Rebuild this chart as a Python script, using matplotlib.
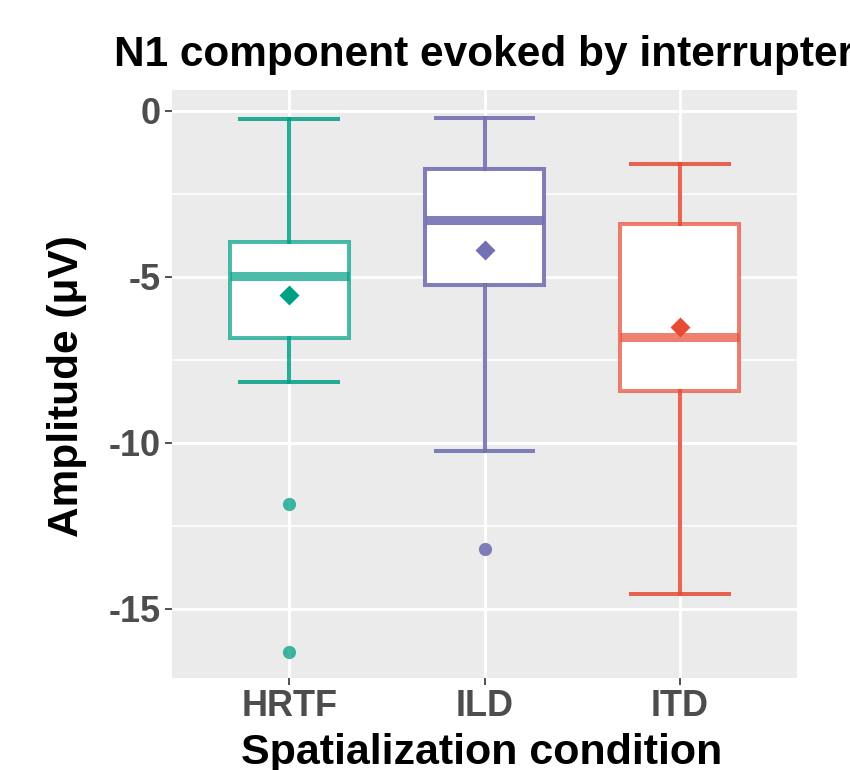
import matplotlib
matplotlib.use("Agg")
import matplotlib.pyplot as plt
from matplotlib.ticker import MultipleLocator
from matplotlib.colors import to_rgba

plt.rcParams['font.family'] = ['Liberation Sans', 'DejaVu Sans']
plt.rcParams['axes.unicode_minus'] = False

categories = ["HRTF", "ILD", "ITD"]
whisker_high = [-0.24, -0.21, -1.60]
q3 = [-3.95, -1.75, -3.40]
median = [-4.97, -3.28, -6.81]
q1 = [-6.84, -5.24, -8.43]
whisker_low = [-8.16, -10.24, -14.55]
mean = [-5.54, -4.19, -6.50]
outliers = [[-11.84, -16.30], [-13.19], []]

# style
colors = ["#00A087", "#7570B3", "#E64B35"]
edge_alpha = [0.7, 0.9, 0.7]
whisk_alpha = [0.85, 0.9, 0.85]

fig = plt.figure(figsize=(8.5, 7.7), dpi=100)
W, H = 850, 770
ax = fig.add_axes([172 / W, 1 - 678 / H, (797 - 172) / W, (678 - 90) / H])
ax.set_facecolor("#EBEBEB")
for s in ax.spines.values():
    s.set_visible(False)

ax.set_xlim(0.4, 3.6)
ax.set_ylim(-17.08, 0.63)
ax.yaxis.set_major_locator(MultipleLocator(5))
ax.yaxis.set_minor_locator(MultipleLocator(2.5))
ax.grid(which="major", color="white", linewidth=2.1)
ax.grid(which="minor", axis="y", color="white", linewidth=1.2)
ax.set_axisbelow(True)

positions = list(range(1, len(categories) + 1))
for i, pos in enumerate(positions):
    c = colors[i]
    ec = to_rgba(c, edge_alpha[i])
    wc = to_rgba(c, whisk_alpha[i])
    stats = [dict(med=median[i], q1=q1[i], q3=q3[i], whislo=whisker_low[i],
                  whishi=whisker_high[i], fliers=outliers[i], mean=mean[i])]
    ax.bxp(stats, positions=[pos], widths=0.61, patch_artist=True,
           showmeans=False, showfliers=True, manage_ticks=False,
           boxprops=dict(facecolor="white", edgecolor=ec, linewidth=2.9),
           medianprops=dict(color=ec, linewidth=6.5, solid_capstyle="butt"),
           whiskerprops=dict(color=wc, linewidth=2.9),
           capprops=dict(color=wc, linewidth=2.9),
           capwidths=0.5,
           flierprops=dict(marker="o", markerfacecolor=to_rgba(c, 0.75 if edge_alpha[i] < 0.8 else 0.9),
                           markeredgecolor="none", markersize=9.5))
    ax.plot([pos], [mean[i]], marker="D", color=c, markersize=10, markeredgecolor="none", zorder=5)

ax.set_xticks(positions)
ax.set_xticklabels(categories)
ax.tick_params(axis="both", which="major", colors="#333333", length=5, width=1.2,
               labelsize=26, labelcolor="#4D4D4D", pad=3)
ax.tick_params(axis="y", which="minor", length=0)
for lab in ax.get_xticklabels() + ax.get_yticklabels():
    lab.set_fontweight("bold")

fig.text(114 / W, 1 - 66 / H, "N1 component evoked by interrupter", fontsize=30.5,
         fontweight="bold", ha="left", va="baseline", color="black")
fig.text(67 / W, 1 - 386 / H, "Amplitude (μV)", fontsize=30.5, fontweight="bold",
         rotation=90, ha="center", va="center", color="black")
fig.text(482 / W, 1 - 764 / H, "Spatialization condition", fontsize=31,
         fontweight="bold", ha="center", va="baseline", color="black")

fig.savefig("out.png", dpi=100)
